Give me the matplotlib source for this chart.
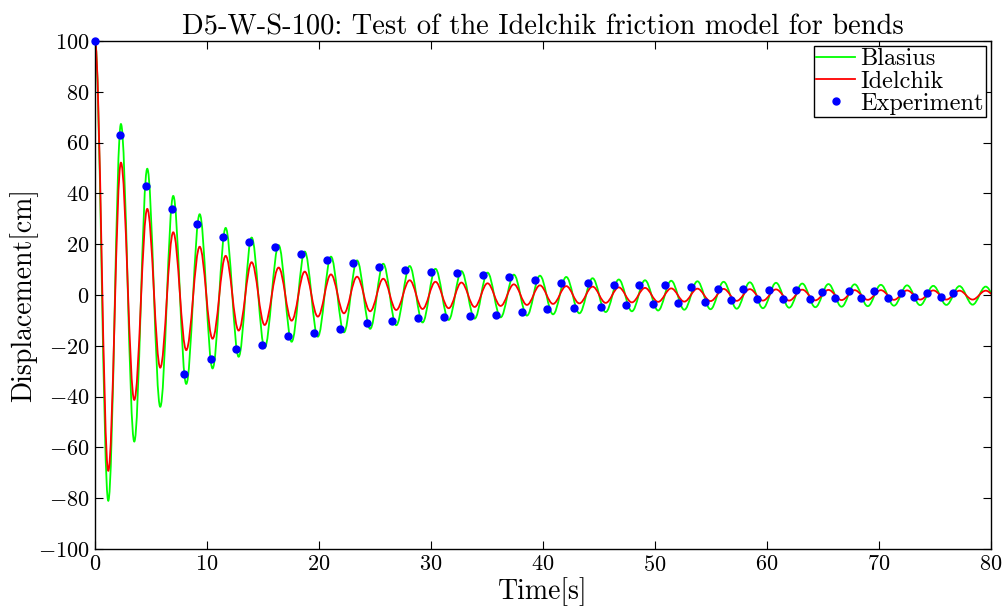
import matplotlib
matplotlib.use("Agg")
import matplotlib.pyplot as plt
from matplotlib.path import Path
from matplotlib.patches import PathPatch
from matplotlib.lines import Line2D

# LaTeX-like look
plt.rcParams['font.family'] = 'serif'
plt.rcParams['font.serif'] = ['cmr10']
plt.rcParams['mathtext.fontset'] = 'cm'
plt.rcParams['axes.formatter.use_mathtext'] = True

# times of the extrema (turning points) of the simulated curves [s]
t_ext = [0.00, 1.19, 2.32, 3.51, 4.67, 5.83, 6.99, 8.15, 9.35, 10.50,
         11.67, 12.83, 13.99, 15.15, 16.40, 17.56, 18.73, 19.90, 21.07, 22.23,
         23.40, 24.57, 25.74, 26.90, 28.10, 29.25, 30.40, 31.58, 32.72, 33.90,
         35.05, 36.22, 37.40, 38.57, 39.73, 40.90, 42.08, 43.25, 44.43, 45.60,
         46.77, 47.94, 49.11, 50.28, 51.45, 52.62, 53.79, 54.96, 56.13, 57.30,
         58.47, 59.64, 60.81, 61.98, 63.15, 64.32, 65.49, 66.66, 67.83, 69.00,
         70.17, 71.34, 72.51, 73.68, 74.85, 76.02, 77.19, 78.36, 79.53, 80.70]

# Blasius friction model, displacement at the extrema [cm]
blasius = [100.0, -81.0, 67.3, -57.7, 49.7, -44.0, 39.0, -35.0, 31.8, -28.9,
           26.4, -24.3, 22.6, -20.8, 19.6, -18.4, 17.1, -16.4, 15.1, -14.7,
           13.6, -13.3, 12.3, -11.9, 11.4, -10.8, 10.3, -9.8, 9.4, -9.3,
           8.8, -8.8, 8.0, -8.1, 7.6, -7.6, 7.1, -7.2, 6.6, -6.7,
           6.1, -6.4, 5.8, -6.1, 5.6, -5.8, 5.4, -5.6, 5.2, -5.4,
           5.0, -5.2, 4.8, -5.0, 4.5, -4.8, 4.3, -4.6, 4.2, -4.4,
           4.0, -4.2, 3.8, -4.0, 3.6, -3.9, 3.5, -3.8, 3.3, -3.7]

# Idelchik friction model, displacement at the extrema [cm]
idelchik = [100.0, -69.2, 52.1, -41.3, 33.9, -28.6, 24.7, -21.7, 19.0, -17.2,
            15.4, -14.0, 12.9, -11.8, 10.8, -10.1, 9.2, -8.5, 8.1, -7.2,
            7.2, -6.4, 6.4, -5.9, 5.8, -5.5, 5.2, -5.2, 4.9, -4.7,
            4.6, -4.3, 4.2, -3.9, 3.8, -3.5, 3.5, -3.3, 3.3, -3.1,
            3.0, -2.9, 2.8, -2.7, 2.6, -2.6, 2.5, -2.4, 2.4, -2.3,
            2.3, -2.2, 2.2, -2.2, 2.1, -2.1, 2.0, -2.0, 1.9, -1.9,
            1.9, -1.9, 1.8, -1.8, 1.8, -1.8, 1.7, -1.8, 1.7, -1.7]

# measured points
t_exp = [0.0, 2.26, 4.55, 6.88, 7.98, 9.13, 10.33, 11.46, 12.62, 13.75,
         14.91, 16.04, 17.23, 18.37, 19.52, 20.69, 21.90, 23.07, 24.26, 25.33,
         26.55, 27.65, 28.84, 30.03, 31.13, 32.35, 33.48, 34.64, 35.83, 36.99,
         38.15, 39.29, 40.40, 41.63, 42.80, 44.00, 45.15, 46.30, 47.40, 48.60,
         49.80, 50.90, 52.10, 53.20, 54.50, 55.60, 56.80, 57.90, 59.10, 60.20,
         61.40, 62.60, 63.80, 64.90, 66.10, 67.30, 68.40, 69.60, 70.80, 72.00,
         73.10, 74.30, 75.50, 76.60]
y_exp = [100.0, 63.1, 43.0, 34.0, -31.2, 28.0, -25.2, 23.0, -21.1, 20.9,
         -19.7, 19.0, -16.3, 16.0, -15.1, 13.9, -13.3, 12.5, -11.2, 11.0,
         -10.1, 9.8, -9.2, 8.9, -8.7, 8.5, -8.3, 8.0, -7.7, 7.0,
         -6.6, 5.9, -5.6, 4.9, -5.1, 4.6, -4.7, 3.9, -4.1, 3.9,
         -3.5, 3.9, -3.1, 3.0, -2.6, 2.4, -2.1, 2.4, -1.7, 2.0,
         -1.4, 2.0, -1.7, 1.3, -1.2, 1.4, -1.2, 1.4, -1.2, 0.9,
         -0.7, 0.9, -0.7, 0.9]


def smooth_path(t, y, c=0.364):
    """Cubic Bezier through the turning points, flat tangent at each one."""
    verts = [(t[0], y[0])]
    codes = [Path.MOVETO]
    for i in range(len(t) - 1):
        dt = t[i + 1] - t[i]
        verts += [(t[i] + c * dt, y[i]), (t[i + 1] - c * dt, y[i + 1]), (t[i + 1], y[i + 1])]
        codes += [Path.CURVE4] * 3
    return Path(verts, codes)


fig = plt.figure(figsize=(10.08, 6.09), dpi=100)
ax = fig.add_axes([0.0942, 0.0985, 0.8889, 0.8342])

ax.add_patch(PathPatch(smooth_path(t_ext, blasius), fill=False, edgecolor=(0, 1, 0), lw=1.3))
ax.add_patch(PathPatch(smooth_path(t_ext, idelchik), fill=False, edgecolor=(1, 0, 0), lw=1.3))
ax.plot(t_exp, y_exp, 'o', color=(0, 0, 1), markersize=5, clip_on=False, zorder=5)

ax.set_xlim(0, 80)
ax.set_ylim(-100, 100)
ax.set_xticks(range(0, 81, 10))
ax.set_yticks(range(-100, 101, 20))
ax.tick_params(direction='in', top=True, right=True, length=6, width=0.8,
               labelsize=16, pad=4)
for s in ax.spines.values():
    s.set_linewidth(1.0)

ax.set_title('D5-W-S-100: Test of the Idelchik friction model for bends', fontsize=20.5, pad=5)
ax.set_xlabel('Time[s]', fontsize=20, labelpad=2)
ax.set_ylabel('Displacement[cm]', fontsize=20, labelpad=0)

handles = [Line2D([], [], color=(0, 1, 0), lw=1.3),
           Line2D([], [], color=(1, 0, 0), lw=1.3),
           Line2D([], [], ls='', marker='o', color=(0, 0, 1), markersize=5)]
leg = ax.legend(handles, ['Blasius', 'Idelchik', 'Experiment'], loc='upper right',
                fontsize=17.5, fancybox=False, edgecolor='black', framealpha=1,
                borderaxespad=0.2, borderpad=0.1, labelspacing=0.0,
                handlelength=1.6, handletextpad=0.2)
leg.get_frame().set_linewidth(1.0)

fig.savefig('out.png', dpi=100)
